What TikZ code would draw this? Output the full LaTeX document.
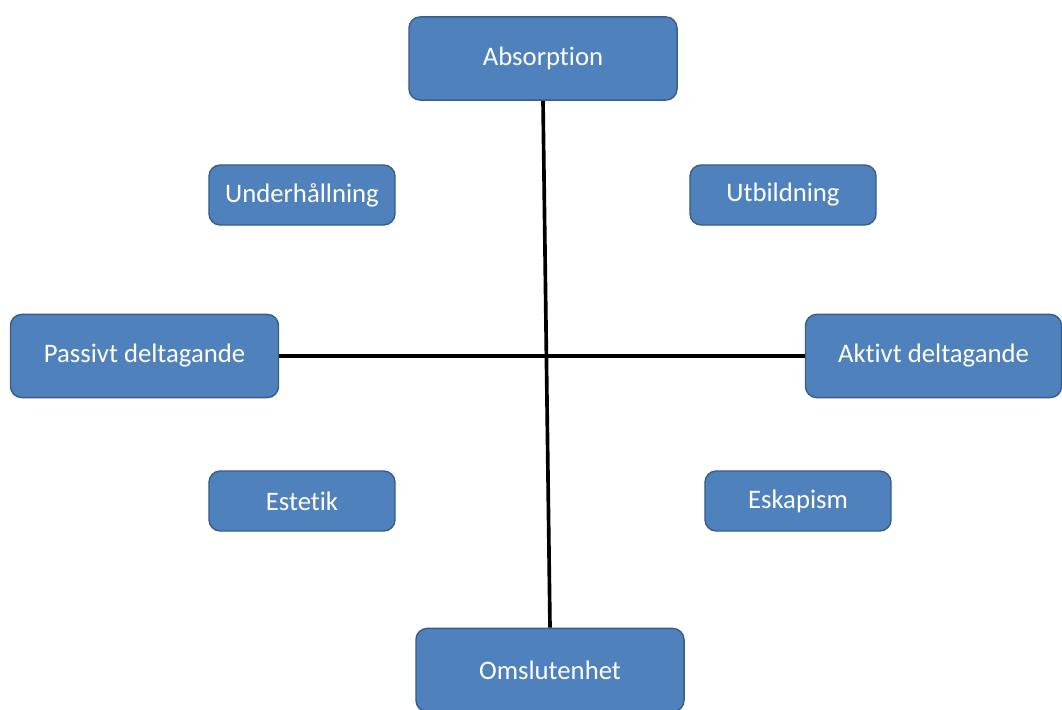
\documentclass[tikz,border=0pt]{standalone}
\usepackage{fontspec}
\setmainfont{Carlito}[Ligatures=CommonOff]
\definecolor{boxblue}{HTML}{4F81BD}
\definecolor{boxedge}{HTML}{385D8A}

\begin{document}
\begin{tikzpicture}[x=0.025cm,y=-0.025cm,
    box/.style={draw=boxedge,line width=1pt,fill=boxblue,rounded corners=8pt,
      text=white,font=\fontsize{19}{22}\selectfont,inner sep=0pt},
    bigbox/.style={box,minimum width=6.7cm,minimum height=2.08cm},
    smallbox/.style={box,minimum width=4.65cm,minimum height=1.5cm}]
    \useasboundingbox (0,0) rectangle (1062,709);
    \node[bigbox] (abs) at (543,58.5) {Absorption};
    \node[bigbox] (oms) at (550,670) {Omslutenhet};
    \node[bigbox] (pas) at (144.5,356) {Passivt deltagande};
    \node[bigbox,minimum width=6.4cm] (akt) at (933.5,356) {Aktivt deltagande};
    \node[smallbox] (und) at (302,195) {Underhållning};
    \node[smallbox] (utb) at (783,195) {Utbildning};
    \node[smallbox] (est) at (302,501) {Estetik};
    \node[smallbox] (esk) at (798,501) {Eskapism};
    \draw[line width=2.6pt] (abs.south)--(oms.north);
    \draw[line width=2.6pt] (pas.east)--(akt.west);
\end{tikzpicture}
\end{document}
